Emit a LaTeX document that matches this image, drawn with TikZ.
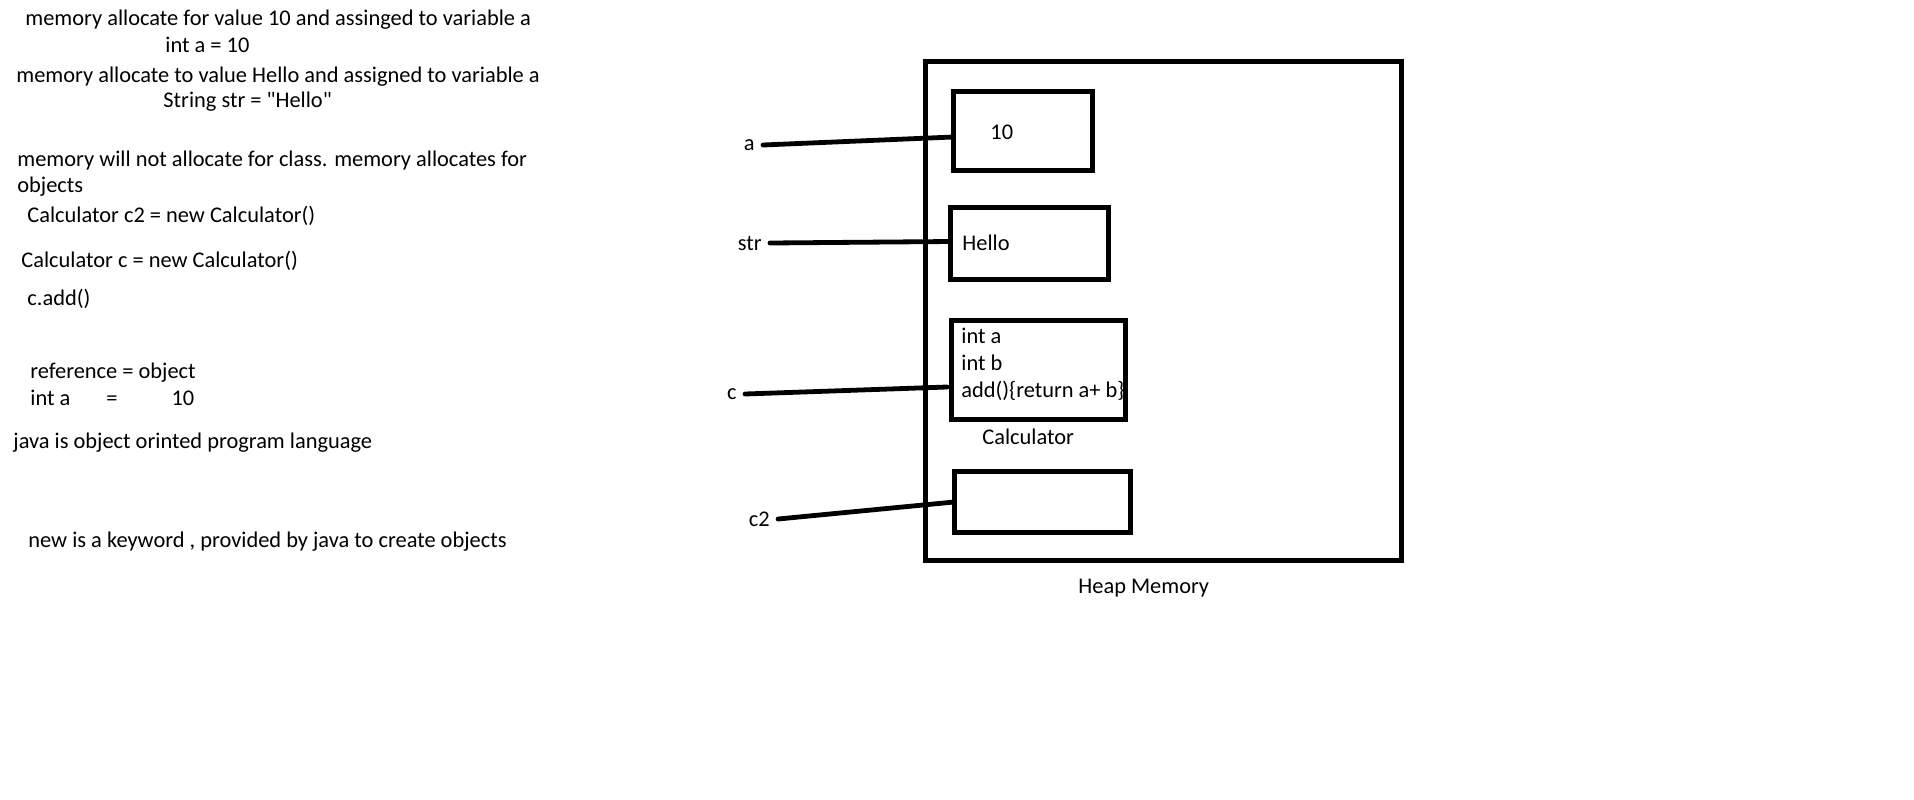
\documentclass[tikz,border=0pt]{standalone}
\usepackage{fontspec}
\setmainfont{Carlito}
\usepackage{tikz}
\usetikzlibrary{positioning}

\begin{document}
\begin{tikzpicture}[
    x=0.5pt, y=-0.5pt,
    font=\fontsize{11.2pt}{13.5pt}\selectfont,
    txt/.style={anchor=base west, inner sep=0pt},
    var/.style={anchor=east, inner sep=4pt},
    cell/.style={draw, line width=2.5pt, minimum width=#1, inner sep=0pt},
    ref/.style={line width=2.4pt, line cap=round}
]
\useasboundingbox (0,0) rectangle (1914,799);

% notes on the left
\node[txt] (n1) at (25,25) {memory allocate for value 10 and assinged to variable a};
\node[txt] (n2) at (165,52) {int a = 10};
\node[txt] (n3) at (16,82) {memory allocate to value Hello and assigned to variable a};
\node[txt] (n4) at (163,107) {String str = \textquotedbl Hello\textquotedbl};
\node[txt] (n5) at (17,166) {memory will not allocate for class. memory allocates for};
\node[txt] (n6) at (17,192) {objects};
\node[txt] (n7) at (27,222) {Calculator c2 = new Calculator()};
\node[txt] (n8) at (21,267) {Calculator c = new Calculator()};
\node[txt] (n9) at (27,305) {c.add()};
\node[txt] (n10) at (30,378) {reference = object};
\node[txt] (n11) at (30,405) {int a\hspace{18pt}=\hspace{27pt}10};
\node[txt] (n12) at (13,448) {java is object orinted program language};
\node[txt] (n13) at (28,547) {new is a keyword , provided by java to create objects};

% heap and objects
\node[cell=238pt, minimum height=249.5pt] (heap) at (1163.5,311) {};
\node[cell=69.5pt, minimum height=39.5pt] (v10) at (1023,131) {};
\node[cell=79pt, minimum height=36pt] (hello) at (1029.5,243.5) {};
\node[cell=87pt, minimum height=49.5pt] (calc) at (1038.5,370) {};
\node[cell=88pt, minimum height=30.5pt] (calc2) at (1042.5,502) {};

\node[txt] (t10) at (990,139) {10};
\node[txt] (thello) at (962,250) {Hello};
\node[txt] (tinta) at (961,343) {int a};
\node[txt] (tintb) at (961,370) {int b};
\node[txt] (tadd) at (961,397) {add()\{return a+ b\}};
\node[txt] (tcalc) at (982,444) {Calculator};
\node[txt] (theap) at (1078,593) {Heap Memory};

% references
\node[var] (a) at (763,145) {a};
\node[var] (str) at (770,243) {str};
\node[var] (c) at (745,394) {c};
\node[var] (c2) at (778,519) {c2};

\draw[ref] (a.east) -- ([xshift=1pt,yshift=-3pt]v10.west);
\draw[ref] (str.east) -- ([xshift=1pt,yshift=1pt]hello.west);
\draw[ref] (c.east) -- ([xshift=-1pt,yshift=-8.5pt]calc.west);
\draw[ref] (c2.east) -- ([xshift=1pt]calc2.west);
\end{tikzpicture}
\end{document}
